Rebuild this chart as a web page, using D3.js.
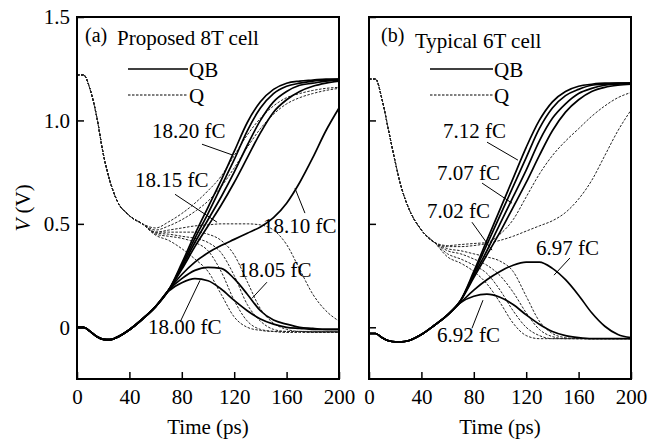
<!DOCTYPE html>
<html><head><meta charset="utf-8">
<script src="https://cdn.jsdelivr.net/npm/d3@7"></script>
<style>
body{margin:0;background:#fff}
svg text{font-family:"Liberation Serif",Tinos,"Times New Roman",Times,"Nimbus Roman","DejaVu Serif",serif !important;fill:#000}
</style>
</head><body>
<svg id="c" width="662" height="445"></svg>
<script>
// ---------- DATA ----------
const times = [0,5,10,15,20,25,30,40,50,60,70,80,90,100,110,120,130,140,150,160,170,180,190,200];
const xTicks = [0,40,80,120,160,200];
const yTicks = [0,0.5,1.0,1.5];
const yTickLabels = ["0","0.5","1.0","1.5"];
const legendNames = ["QB","Q"];

// Panel (a): proposed 8T cell
const qbA = [
 [0,0,-0.02,-0.045,-0.058,-0.06,-0.05,-0.012,0.04,0.10,0.175,0.215,0.235,0.225,0.185,0.13,0.08,0.04,0.015,0.0,-0.005,-0.01,-0.01,-0.01],
 [0,0,-0.02,-0.045,-0.058,-0.06,-0.05,-0.012,0.04,0.10,0.18,0.235,0.275,0.29,0.285,0.235,0.16,0.08,0.035,0.015,0.0,-0.005,-0.01,-0.01],
 [0,0,-0.02,-0.045,-0.058,-0.06,-0.05,-0.012,0.04,0.10,0.18,0.255,0.315,0.36,0.395,0.425,0.455,0.485,0.53,0.60,0.70,0.82,0.95,1.06],
 [0,0,-0.02,-0.045,-0.058,-0.06,-0.05,-0.012,0.04,0.10,0.18,0.28,0.39,0.49,0.59,0.70,0.82,0.94,1.04,1.10,1.14,1.165,1.18,1.19],
 [0,0,-0.02,-0.045,-0.058,-0.06,-0.05,-0.012,0.04,0.10,0.18,0.29,0.41,0.52,0.63,0.75,0.88,1.00,1.09,1.14,1.17,1.18,1.19,1.195],
 [0,0,-0.02,-0.045,-0.058,-0.06,-0.05,-0.012,0.04,0.10,0.18,0.30,0.43,0.55,0.68,0.81,0.95,1.06,1.13,1.165,1.18,1.19,1.195,1.2],
 [0,0,-0.02,-0.045,-0.058,-0.06,-0.05,-0.012,0.04,0.10,0.18,0.31,0.45,0.58,0.71,0.85,0.99,1.09,1.15,1.18,1.19,1.195,1.2,1.2]
];
const qA = [
 [1.22,1.22,1.15,1.02,0.84,0.71,0.62,0.54,0.50,0.48,0.51,0.55,0.60,0.66,0.73,0.83,0.93,1.01,1.07,1.11,1.13,1.145,1.155,1.16],
 [1.22,1.22,1.15,1.02,0.84,0.71,0.62,0.54,0.50,0.47,0.49,0.52,0.56,0.61,0.68,0.77,0.87,0.96,1.03,1.08,1.11,1.13,1.145,1.155],
 [1.22,1.22,1.15,1.02,0.84,0.71,0.62,0.54,0.50,0.46,0.47,0.48,0.49,0.495,0.5,0.5,0.5,0.495,0.47,0.40,0.28,0.16,0.08,0.03],
 [1.22,1.22,1.15,1.02,0.84,0.71,0.62,0.54,0.50,0.46,0.46,0.46,0.46,0.45,0.42,0.35,0.22,0.09,0.02,-0.01,-0.02,-0.02,-0.02,-0.02],
 [1.22,1.22,1.15,1.02,0.84,0.71,0.62,0.54,0.50,0.455,0.45,0.44,0.43,0.41,0.36,0.25,0.11,0.03,-0.01,-0.02,-0.02,-0.025,-0.025,-0.025],
 [1.22,1.22,1.15,1.02,0.84,0.71,0.62,0.54,0.50,0.45,0.44,0.43,0.41,0.37,0.27,0.13,0.03,-0.01,-0.02,-0.025,-0.025,-0.025,-0.025,-0.025],
 [1.22,1.22,1.15,1.02,0.84,0.71,0.62,0.54,0.50,0.445,0.42,0.38,0.33,0.27,0.16,0.05,0.0,-0.015,-0.02,-0.02,-0.02,-0.02,-0.02,-0.02]
];
const labelsA = ["18.20 fC","18.15 fC","18.10 fC","18.05 fC","18.00 fC"];

// Panel (b): typical 6T cell
const qbB = [
 [-0.03,-0.03,-0.05,-0.065,-0.07,-0.07,-0.065,-0.035,0.01,0.06,0.12,0.15,0.16,0.145,0.11,0.06,0.015,-0.02,-0.04,-0.05,-0.055,-0.055,-0.055,-0.055],
 [-0.03,-0.03,-0.05,-0.065,-0.07,-0.07,-0.065,-0.035,0.01,0.06,0.12,0.18,0.23,0.27,0.30,0.315,0.315,0.285,0.23,0.155,0.07,0.005,-0.035,-0.05],
 [-0.03,-0.03,-0.05,-0.065,-0.07,-0.07,-0.065,-0.035,0.01,0.06,0.13,0.24,0.35,0.46,0.58,0.70,0.83,0.95,1.04,1.10,1.14,1.16,1.17,1.175],
 [-0.03,-0.03,-0.05,-0.065,-0.07,-0.07,-0.065,-0.035,0.01,0.06,0.13,0.25,0.37,0.50,0.63,0.76,0.90,1.01,1.08,1.13,1.155,1.17,1.175,1.18],
 [-0.03,-0.03,-0.05,-0.065,-0.07,-0.07,-0.065,-0.035,0.01,0.06,0.13,0.26,0.40,0.54,0.68,0.82,0.96,1.06,1.12,1.15,1.17,1.175,1.18,1.18],
 [-0.03,-0.03,-0.05,-0.065,-0.07,-0.07,-0.065,-0.035,0.01,0.06,0.13,0.27,0.42,0.57,0.72,0.87,1.0,1.09,1.14,1.165,1.175,1.18,1.18,1.18]
];
const qB = [
 [1.2,1.2,1.1,0.95,0.80,0.67,0.58,0.47,0.41,0.395,0.40,0.405,0.41,0.45,0.52,0.63,0.74,0.83,0.90,0.96,1.02,1.07,1.11,1.135],
 [1.2,1.2,1.1,0.95,0.80,0.67,0.58,0.47,0.41,0.39,0.39,0.395,0.405,0.42,0.44,0.465,0.49,0.515,0.555,0.62,0.71,0.83,0.95,1.05],
 [1.2,1.2,1.1,0.95,0.80,0.67,0.58,0.47,0.41,0.38,0.37,0.355,0.34,0.32,0.27,0.15,0.03,-0.03,-0.05,-0.055,-0.055,-0.055,-0.055,-0.055],
 [1.2,1.2,1.1,0.95,0.80,0.67,0.58,0.47,0.41,0.37,0.355,0.33,0.30,0.25,0.17,0.07,-0.01,-0.045,-0.055,-0.055,-0.055,-0.055,-0.055,-0.055],
 [1.2,1.2,1.1,0.95,0.80,0.67,0.58,0.47,0.41,0.355,0.33,0.30,0.26,0.18,0.08,0.0,-0.04,-0.055,-0.055,-0.055,-0.055,-0.055,-0.055,-0.055],
 [1.2,1.2,1.1,0.95,0.80,0.67,0.58,0.47,0.41,0.34,0.31,0.27,0.21,0.12,0.02,-0.04,-0.055,-0.055,-0.055,-0.055,-0.055,-0.055,-0.055,-0.055]
];
const labelsB = ["7.12 fC","7.07 fC","7.02 fC","6.97 fC","6.92 fC"];

// ---------- LAYOUT (annotation anchors in data units) ----------
const annotA = [
 {tx:57.3, ty:0.914, l:[95.4,0.885,119.1,0.832]},
 {tx:44.3, ty:0.677, l:[74.8,0.643,106.9,0.508]},
 {tx:142,  ty:0.455, l:[166.4,0.672,174,0.552]},
 {tx:122.9,ty:0.242, l:[145,0.218,133.6,0.140]},
 {tx:54.2, ty:-0.034,l:[78.6,0.024,93.9,0.227]}
];
const annotB = [
 {tx:56.5, ty:0.914, l:[90.1,0.895,113.7,0.808]},
 {tx:51.9, ty:0.711, l:[86.3,0.697,109.2,0.600]},
 {tx:44.3, ty:0.527, l:[78.6,0.508,93.9,0.373]},
 {tx:127.5,ty:0.348, l:[153.4,0.335,141.2,0.252]},
 {tx:51.9, ty:-0.073,l:[78.6,-0.005,87,0.131]}
];

const FONT = '"Liberation Serif", Tinos, "Times New Roman", Times, "Nimbus Roman", "DejaVu Serif", serif';
const FS = 21;
const svg = d3.select("#c").attr("font-family", FONT);
const plotTop = 17, plotBottom = 379;
const y = d3.scaleLinear().domain([-0.25,1.5]).range([plotBottom, plotTop]);

const panels = [
 {id:"a", x0:77, x1:339, qb:qbA, q:qA, labels:labelsA, annot:annotA, tag:"(a)", title:"Proposed 8T cell",
  tagX:85, tagY:42, titleX:117, titleY:45, legX0:128, legX1:188, showY:true},
 {id:"b", x0:369, x1:631, qb:qbB, q:qB, labels:labelsB, annot:annotB, tag:"(b)", title:"Typical 6T cell",
  tagX:381, tagY:42, titleX:415, titleY:48, legX0:430, legX1:493, showY:false}
];

function txt(sel, size){ return sel.attr("font-family",FONT).style("font-size",size+"px"); }

panels.forEach(p => {
  const x = d3.scaleLinear().domain([0,200]).range([p.x0, p.x1]);
  const g = svg.append("g");
  g.append("clipPath").attr("id","clip"+p.id).append("rect")
    .attr("x",p.x0).attr("y",plotTop).attr("width",p.x1-p.x0).attr("height",plotBottom-plotTop);

  const line = d3.line().x((d,i)=>x(times[i])).y(d=>y(d)).curve(d3.curveMonotoneX);
  const cg = g.append("g").attr("clip-path","url(#clip"+p.id+")");
  p.q.forEach(s => cg.append("path").attr("d", line(s)).attr("fill","none")
      .attr("stroke","#222").attr("stroke-width",1).attr("stroke-dasharray","2.5,1.5"));
  p.qb.forEach(s => cg.append("path").attr("d", line(s)).attr("fill","none")
      .attr("stroke","#000").attr("stroke-width",1.7));

  // axes
  const xa = g.append("g").attr("transform",`translate(0,${plotBottom})`)
    .call(d3.axisBottom(x).tickValues(xTicks).tickSize(-7).tickPadding(10).tickFormat(d3.format("d")));
  xa.attr("font-family",FONT);
  xa.select(".domain").remove();
  xa.selectAll("line").attr("stroke","#000").attr("stroke-width",1.5);
  txt(xa.selectAll("text"),FS).attr("fill","#000");

  const ya = g.append("g").attr("transform",`translate(${p.x0},0)`)
    .call(d3.axisLeft(y).tickValues(yTicks).tickSize(-7).tickPadding(7)
      .tickFormat((d,i)=> p.showY ? yTickLabels[i] : ""));
  ya.attr("font-family",FONT);
  ya.select(".domain").remove();
  ya.selectAll("line").attr("stroke","#000").attr("stroke-width",1.5);
  txt(ya.selectAll("text"),FS).attr("fill","#000");

  // frame
  g.append("rect").attr("x",p.x0).attr("y",plotTop).attr("width",p.x1-p.x0).attr("height",plotBottom-plotTop)
    .attr("fill","none").attr("stroke","#000").attr("stroke-width",2);

  // titles
  txt(g.append("text").attr("x",p.tagX).attr("y",p.tagY),20).text(p.tag);
  txt(g.append("text").attr("x",p.titleX).attr("y",p.titleY),FS).text(p.title);

  // legend
  legendNames.forEach((n,i) => {
    const ly = 69 + i*26;
    g.append("line").attr("x1",p.legX0).attr("x2",p.legX1).attr("y1",ly).attr("y2",ly)
      .attr("stroke","#000").attr("stroke-width", i===0?1.5:1)
      .attr("stroke-dasharray", i===0?null:"2.5,1.5");
    txt(g.append("text").attr("x",p.legX1+1).attr("y",ly+8),FS).text(n);
  });

  // annotations
  p.annot.forEach((a,i) => {
    g.append("line").attr("x1",x(a.l[0])).attr("y1",y(a.l[1])).attr("x2",x(a.l[2])).attr("y2",y(a.l[3]))
      .attr("stroke","#000").attr("stroke-width",1);
    txt(g.append("text").attr("x",x(a.tx)).attr("y",y(a.ty)),FS).text(p.labels[i]);
  });

  // x title
  txt(g.append("text").attr("x",(p.x0+p.x1)/2).attr("y",434).attr("text-anchor","middle"),FS).text("Time (ps)");
});

// y title
const yl = txt(svg.append("text").attr("transform","translate(30,208) rotate(-90)")
  .attr("text-anchor","middle"),FS);
yl.append("tspan").style("font-style","italic").text("V");
yl.append("tspan").text(" (V)");
</script>
</body></html>
